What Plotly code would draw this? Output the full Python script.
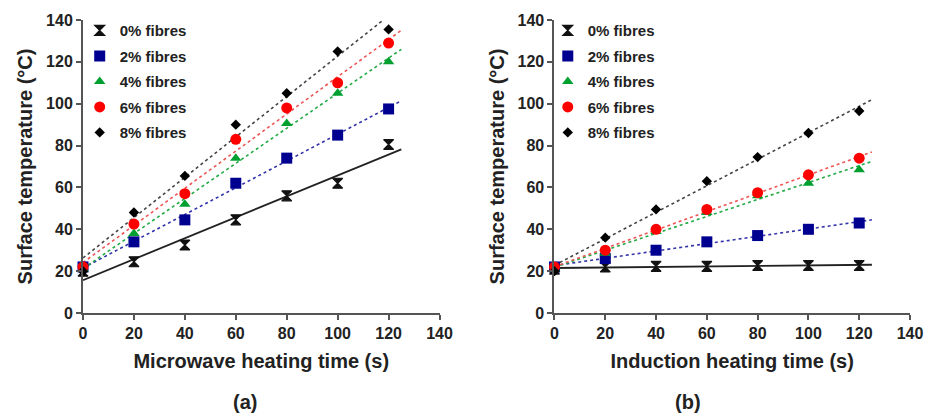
import numpy as np
import plotly.graph_objects as go

# ---- data ----
time_s = [0, 20, 40, 60, 80, 100, 120]
series_names = ["0% fibres", "2% fibres", "4% fibres", "6% fibres", "8% fibres"]

microwave_0 = [20, 24.5, 32.5, 44.5, 56, 62, 80.5]
microwave_2 = [22, 34, 44.5, 62, 74, 85, 97.5]
microwave_4 = [21, 38, 52, 74, 90.5, 105, 120]
microwave_6 = [22, 42.5, 57, 83, 98, 110, 129]
microwave_8 = [20, 48, 65.5, 90, 105, 125, 135.5]

induction_0 = [21, 22, 22.3, 22.3, 22.7, 22.7, 22.7]
induction_2 = [22, 26, 30, 34, 37, 40, 43]
induction_4 = [21, 28.5, 39, 48, 56, 62, 68.5]
induction_6 = [22, 30, 40, 49.5, 57.5, 66, 74]
induction_8 = [20, 36, 49.5, 63, 74.5, 86, 96.5]

x_ticks = [0, 20, 40, 60, 80, 100, 120, 140]
y_ticks = [0, 20, 40, 60, 80, 100, 120, 140]
trend_end = 125

# ---- styles ----
marker_symbols = ["hourglass", "square", "triangle-up", "circle", "diamond"]
marker_colors = ["#111111", "#000090", "#00a030", "#ff0000", "#000000"]
marker_sizes = [10, 11, 10, 11, 8]
marker_line = [1.2, 0, 0, 0, 0]
line_colors = ["#222222", "#3333aa", "#22aa44", "#ee5555", "#444444"]
line_dash = ["solid", "dot", "dot", "dot", "dot"]
line_width = [1.8, 1.6, 1.6, 1.6, 1.6]

FONT = "Liberation Sans, Arial, sans-serif"

fig = go.Figure()

panels = [
    ("x", "y", "legend", [microwave_0, microwave_2, microwave_4, microwave_6, microwave_8]),
    ("x2", "y2", "legend2", [induction_0, induction_2, induction_4, induction_6, induction_8]),
]

for xa, ya, leg, data in panels:
    for i, vals in enumerate(data):
        slope, intercept = np.polyfit(time_s, vals, 1)
        xt = [0, trend_end]
        yt = [intercept + slope * v for v in xt]
        fig.add_trace(go.Scatter(
            x=xt, y=yt, mode="lines", xaxis=xa, yaxis=ya,
            line=dict(color=line_colors[i], width=line_width[i], dash=line_dash[i]),
            showlegend=False, hoverinfo="skip"))
    for i, vals in enumerate(data):
        fig.add_trace(go.Scatter(
            x=time_s, y=vals, mode="markers", xaxis=xa, yaxis=ya,
            name=series_names[i], legend=leg, legendgroup=leg + str(i),
            cliponaxis=False,
            marker=dict(symbol=marker_symbols[i], color=marker_colors[i],
                        size=marker_sizes[i],
                        line=dict(width=marker_line[i], color=marker_colors[i]))))

axis_common = dict(
    range=[0, 140], showgrid=False, zeroline=False, showline=True,
    linecolor="#555555", linewidth=2, ticks="outside", ticklen=5,
    tickwidth=1.5, tickcolor="#555555",
    tickfont=dict(family=FONT, size=16, color="#222222", weight="bold"),
)

title_font = dict(family=FONT, size=20, color="#222222", weight="bold")

fig.update_layout(
    width=935, height=417,
    margin=dict(l=83, r=17, t=17, b=104),
    paper_bgcolor="white", plot_bgcolor="white",
    xaxis=dict(domain=[0, 0.4311], tickvals=x_ticks, anchor="y",
               title=dict(text="Microwave heating time (s)", font=title_font, standoff=13),
               **axis_common),
    yaxis=dict(domain=[0, 1], tickvals=y_ticks, anchor="x",
               title=dict(text="Surface temperature (°C)", font=title_font, standoff=8),
               **axis_common),
    xaxis2=dict(domain=[0.5701, 1.0], tickvals=x_ticks, anchor="y2",
                title=dict(text="Induction heating time (s)", font=title_font, standoff=13),
                **axis_common),
    yaxis2=dict(domain=[0, 1], tickvals=y_ticks, anchor="x2",
                title=dict(text="Surface temperature (°C)", font=title_font, standoff=8),
                **axis_common),
    legend=dict(x=-0.004, y=1.02, xanchor="left", yanchor="top",
                bgcolor="rgba(0,0,0,0)", traceorder="grouped", tracegroupgap=3,
                font=dict(family=FONT, size=15, color="#222222", weight="bold"),
                itemwidth=30),
    legend2=dict(x=0.562, y=1.02, xanchor="left", yanchor="top",
                 bgcolor="rgba(0,0,0,0)", traceorder="grouped", tracegroupgap=3,
                 font=dict(family=FONT, size=15, color="#222222", weight="bold"),
                 itemwidth=30),
    annotations=[
        dict(text="(a)", x=0.1964, y=-0.304, xref="paper", yref="paper",
             xanchor="center", yanchor="middle",
             showarrow=False, font=dict(family=FONT, size=20, color="#222222", weight="bold")),
        dict(text="(b)", x=0.7317, y=-0.304, xref="paper", yref="paper",
             xanchor="center", yanchor="middle",
             showarrow=False, font=dict(family=FONT, size=20, color="#222222", weight="bold")),
    ],
)

fig.write_html("out.html")
